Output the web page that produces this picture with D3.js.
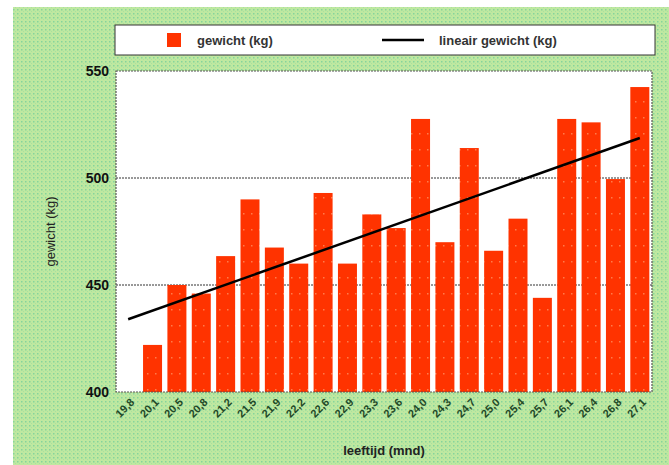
<!DOCTYPE html>
<html><head><meta charset="utf-8">
<script src="https://cdn.jsdelivr.net/npm/d3@7"></script>
<style>html,body{margin:0;padding:0;background:#fff;}svg{display:block;}</style>
</head><body>
<script>
const categories = ["19,8","20,1","20,5","20,8","21,2","21,5","21,9","22,2","22,6","22,9","23,3","23,6","24,0","24,3","24,7","25,0","25,4","25,7","26,1","26,4","26,8","27,1"];
const weights = [null,422,450,446,463.5,490,467.5,460,493,460,483,476.6,527.6,470,514,466,481,444,527.6,526,499.5,542.5];
const trendPoints = [{cat:"19,8", value:434}, {cat:"27,1", value:518.7}];
const yTicks = [400,450,500,550];
const seriesNames = ["gewicht (kg)","lineair gewicht (kg)"];

const W=669,H=465;
const FONT="Liberation Sans, Arial, sans-serif";
const svg=d3.select("body").append("svg").attr("width",W).attr("height",H);
const defs=svg.append("defs");
const bg=defs.append("pattern").attr("id","bgp").attr("width",4).attr("height",4).attr("patternUnits","userSpaceOnUse");
bg.append("rect").attr("width",4).attr("height",4).attr("fill","#bfe8a0");
bg.append("rect").attr("x",1).attr("y",1).attr("width",1.5).attr("height",1.5).attr("fill","#86d49c");
bg.append("rect").attr("x",3).attr("y",3).attr("width",1).attr("height",1).attr("fill","#a8e0a0");
const bp=defs.append("pattern").attr("id","barp").attr("width",8).attr("height",16).attr("patternUnits","userSpaceOnUse");
bp.append("rect").attr("width",8).attr("height",16).attr("fill","#ff3300");
bp.append("rect").attr("x",3).attr("y",5).attr("width",1.5).attr("height",1.5).attr("fill","#ff7a4a");

svg.append("rect").attr("x",13).attr("y",7).attr("width",W-13).attr("height",H-7).attr("fill","url(#bgp)");

const m={l:116,r:652,t:71,b:392};
const x=d3.scaleBand().domain(categories).range([m.l,m.r]).paddingInner(0.22).paddingOuter(0.11);
const y=d3.scaleLinear().domain([400,550]).range([m.b,m.t]);

svg.append("rect").attr("x",m.l).attr("y",m.t).attr("width",m.r-m.l).attr("height",m.b-m.t).attr("fill","#fff");

// gridlines
svg.append("g").selectAll("line").data(yTicks.filter(d=>d>400&&d<550)).join("line")
 .attr("x1",m.l).attr("x2",m.r).attr("y1",d=>y(d)).attr("y2",d=>y(d))
 .attr("stroke","#333").attr("stroke-width",1).attr("stroke-dasharray","2,1");

// bars
svg.append("g").selectAll("rect").data(categories.map((c,i)=>({c,v:weights[i]})).filter(d=>d.v!=null)).join("rect")
 .attr("x",d=>x(d.c)).attr("width",x.bandwidth()).attr("y",d=>y(d.v)).attr("height",d=>y(400)-y(d.v))
 .attr("fill","url(#barp)");

// trend line
const line=d3.line().x(d=>x(d.cat)+x.bandwidth()/2).y(d=>y(d.value));
svg.append("path").datum(trendPoints).attr("d",line).attr("fill","none").attr("stroke","#000").attr("stroke-width",2.5);

// plot border
svg.append("rect").attr("x",m.l).attr("y",m.t).attr("width",m.r-m.l).attr("height",m.b-m.t)
 .attr("fill","none").attr("stroke","#555").attr("stroke-width",1.2).attr("stroke-dasharray","2,1");

// y axis
const ya=svg.append("g").attr("transform",`translate(${m.l},0)`).call(d3.axisLeft(y).tickValues(yTicks).tickSize(0).tickPadding(7));
ya.select(".domain").remove();
ya.selectAll("text").attr("font-family",FONT).attr("font-size",14).attr("font-weight","bold").attr("fill","#111");

// x axis
const xa=svg.append("g").attr("transform",`translate(0,${m.b})`).call(d3.axisBottom(x).tickSize(0));
xa.select(".domain").remove();
xa.selectAll("text").attr("font-family",FONT).attr("font-size",11).attr("font-weight","bold").attr("fill","#1f4a28")
 .attr("text-anchor","end").attr("dy",0).attr("y",0)
 .attr("transform","translate(7,11) rotate(-45)");

// axis titles
svg.append("text").attr("x",(m.l+m.r)/2).attr("y",455).attr("text-anchor","middle")
 .attr("font-family",FONT).attr("font-size",13).attr("font-weight","bold").attr("fill","#222").text("leeftijd (mnd)");
svg.append("text").attr("transform",`translate(55,${(m.t+m.b)/2}) rotate(-90)`).attr("text-anchor","middle")
 .attr("font-family",FONT).attr("font-size",13).attr("fill","#222").text("gewicht (kg)");

// legend
const lg=svg.append("g");
lg.append("rect").attr("x",115).attr("y",25).attr("width",540).attr("height",30).attr("fill","#fff").attr("stroke","#333").attr("stroke-width",1);
lg.append("rect").attr("x",167).attr("y",33).attr("width",14).attr("height",14).attr("fill","#ff3300");
lg.append("text").attr("x",197).attr("y",45).attr("font-family",FONT).attr("font-size",13).attr("font-weight","bold").attr("fill","#333").text(seriesNames[0]);
lg.append("line").attr("x1",382).attr("x2",424).attr("y1",40).attr("y2",40).attr("stroke","#000").attr("stroke-width",2.5);
lg.append("text").attr("x",439).attr("y",45).attr("font-family",FONT).attr("font-size",13).attr("font-weight","bold").attr("fill","#333").text(seriesNames[1]);
</script>
</body></html>
